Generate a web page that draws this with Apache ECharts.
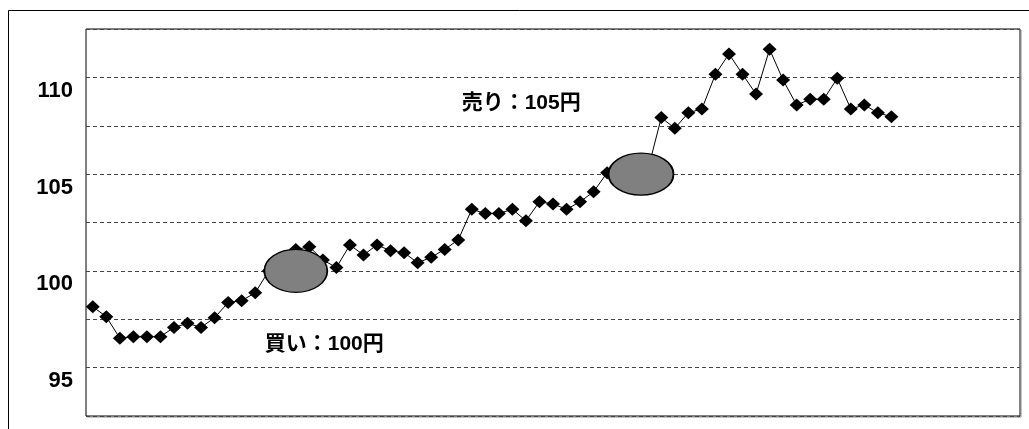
<!DOCTYPE html>
<html>
<head>
<meta charset="utf-8">
<style>
  html, body { margin: 0; padding: 0; background: #fff; }
  #chart { width: 1029px; height: 429px; }
</style>
<script src="https://cdn.jsdelivr.net/npm/echarts@6/dist/echarts.min.js"></script>
</head>
<body>
<div id="chart"></div>
<script>
// Daily closing prices (yen)
const prices = [
  98.15, 97.63, 96.52, 96.60, 96.60, 96.60, 97.08, 97.29, 97.08, 97.58,
  98.36, 98.46, 98.87, 100.00, 100.50, 101.10, 101.25, 100.56, 100.18, 101.34,
  100.82, 101.34, 101.04, 100.94, 100.42, 100.70, 101.11, 101.60, 103.18, 102.97,
  102.97, 103.18, 102.59, 103.57, 103.46, 103.18, 103.57, 104.09, 105.07, 105.30,
  105.60, 105.20, 107.92, 107.37, 108.17, 108.37, 110.16, 111.21, 110.16, 109.14,
  111.45, 109.86, 108.57, 108.87, 108.87, 109.95, 108.37, 108.57, 108.17, 107.97
];
// Number of day slots on the horizontal axis
const daySlots = 69;

// Trades: label, day, price
const tradeNames = ['買い', '売り'];
const tradeDays = [15, 40.5];
const tradePrices = [100, 105];

// Y axis tick labels
const yTickLabels = ['95', '100', '105', '110'];

const seriesData = prices.map((p, i) => [i, p]);
const font = "'Liberation Sans', 'Noto Sans CJK JP', sans-serif";

const ellipseStyle = { color: '#808080', borderColor: '#000', borderWidth: 1.5 };
const labelStyle = {
  show: true, position: 'inside', color: '#000',
  fontFamily: font, fontWeight: 'bold', fontSize: 21
};

const chart = echarts.init(document.getElementById('chart'), null, { renderer: 'canvas' });
chart.setOption({
  animation: false,
  backgroundColor: '#fff',
  graphic: [{
    type: 'rect',
    shape: { x: 8.5, y: 10.5, width: 1100, height: 500 },
    style: { fill: 'none', stroke: '#000', lineWidth: 1 },
    silent: true,
    z: -10
  }, {
    // soft edge along the right and bottom of the plot frame
    type: 'polyline',
    shape: { points: [[1021, 30], [1021, 417], [87, 417]] },
    style: { fill: 'none', stroke: '#888', lineWidth: 1 },
    silent: true
  }],
  grid: {
    left: 86, right: 9, top: 29, bottom: 13,
    show: true, borderColor: '#000', borderWidth: 1, backgroundColor: 'transparent'
  },
  xAxis: {
    type: 'value',
    min: -0.5, max: daySlots - 0.5,
    axisLine: { show: false }, axisTick: { show: false },
    axisLabel: { show: false }, splitLine: { show: false }
  },
  yAxis: {
    type: 'value',
    min: 92.5, max: 112.5, interval: 2.5,
    axisLine: { show: false }, axisTick: { show: false },
    axisLabel: {
      margin: 13,
      color: '#000', fontFamily: font, fontWeight: 'bold', fontSize: 22,
      lineHeight: 27,
      // labels sit half a line below their gridline
      formatter: v => yTickLabels.includes(String(v)) ? '\n' + v : ''
    },
    splitLine: { show: true, lineStyle: { color: '#444', width: 1, type: [4, 3] } }
  },
  series: [{
    type: 'line',
    data: seriesData,
    symbol: 'diamond',
    symbolSize: [14, 13],
    itemStyle: { color: '#000' },
    lineStyle: { color: '#000', width: 1 },
    markPoint: {
      silent: true,
      data: [
        { coord: [tradeDays[0], tradePrices[0]], symbol: 'circle', symbolSize: [63, 43],
          itemStyle: ellipseStyle, label: { show: false } },
        { coord: [tradeDays[1], tradePrices[1]], symbol: 'circle', symbolSize: [65, 42],
          itemStyle: ellipseStyle, label: { show: false } },
        { coord: [17.1, 96.2], symbol: 'rect', symbolSize: 1,
          itemStyle: { color: 'rgba(0,0,0,0)' },
          label: Object.assign({}, labelStyle, { formatter: `${tradeNames[0]}：${tradePrices[0]}円` }) },
        { coord: [31.65, 108.68], symbol: 'rect', symbolSize: 1,
          itemStyle: { color: 'rgba(0,0,0,0)' },
          label: Object.assign({}, labelStyle, { formatter: `${tradeNames[1]}：${tradePrices[1]}円` }) }
      ]
    }
  }]
});
</script>
</body>
</html>
